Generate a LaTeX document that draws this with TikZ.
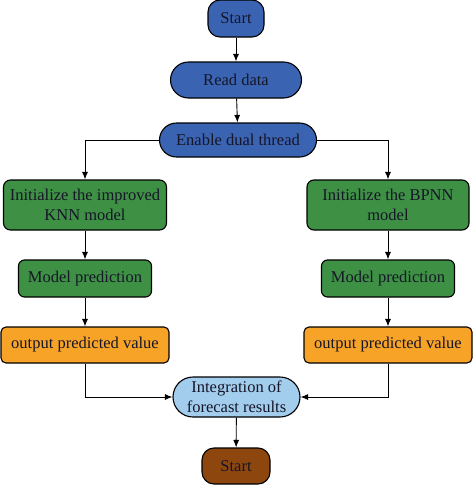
\documentclass[tikz,border=0pt]{standalone}
\usepackage{fontspec}
\setmainfont{Liberation Serif}
\usetikzlibrary{arrows.meta}
\definecolor{stepblue}{RGB}{58,99,178}
\definecolor{stepgreen}{RGB}{62,145,68}
\definecolor{steporange}{RGB}{247,163,40}
\definecolor{steplight}{RGB}{162,205,236}
\definecolor{stepbrown}{RGB}{140,70,14}
\definecolor{steptext}{RGB}{22,22,40}
\tikzset{
	box/.style={draw=black, line width=1.1pt, inner sep=0pt, align=center, text=steptext,
		font=\fontsize{16.5}{20}\selectfont},
	flow/.style={line width=0.9pt, -{Latex[length=7.5pt,width=6pt]}},
}
\begin{document}
\begin{tikzpicture}[x=1pt,y=-1pt]
	% Fix the page
	\useasboundingbox (0,0) rectangle (473,485);
	
	% Main line
	\node[box, fill=stepblue, minimum width=56pt, minimum height=37pt, rounded corners=12pt] (start) at (236,18.5) {Start};
	\node[box, fill=stepblue, minimum width=131pt, minimum height=36pt, rounded corners=18pt] (read) at (236,80) {Read data};
	\node[box, fill=stepblue, minimum width=157pt, minimum height=34pt, rounded corners=17pt] (dual) at (238,140) {Enable dual thread};
	
	% Left thread
	\node[box, fill=stepgreen, minimum width=163pt, minimum height=50pt, rounded corners=7pt] (initL) at (85,205) {Initialize the improved\\KNN model};
	\node[box, fill=stepgreen, minimum width=133pt, minimum height=37pt, rounded corners=6pt] (predL) at (85,278.5) {Model prediction};
	\node[box, fill=steporange, minimum width=168pt, minimum height=36pt, rounded corners=5pt] (outL) at (85,345) {output predicted value};
	
	% Right thread
	\node[box, fill=stepgreen, minimum width=162pt, minimum height=50pt, rounded corners=7pt] (initR) at (388,205) {Initialize the BPNN\\model};
	\node[box, fill=stepgreen, minimum width=133pt, minimum height=37pt, rounded corners=6pt] (predR) at (388,278.5) {Model prediction};
	\node[box, fill=steporange, minimum width=168pt, minimum height=36pt, rounded corners=5pt] (outR) at (388,345) {output predicted value};
	
	% Merge
	\node[box, fill=steplight, minimum width=127pt, minimum height=40pt, rounded corners=20pt] (merge) at (236.5,397) {Integration of\\forecast results};
	\node[box, fill=stepbrown, minimum width=68pt, minimum height=36pt, rounded corners=12pt] (finish) at (236,466) {Start};
	
	\draw[flow] (start) -- (read);
	\draw[flow] (read) -- (dual);
	\draw[flow] (dual.west) -| (initL.north);
	\draw[flow] (dual.east) -| (initR.north);
	\draw[flow] (initL) -- (predL);
	\draw[flow] (predL) -- (outL);
	\draw[flow] (initR) -- (predR);
	\draw[flow] (predR) -- (outR);
	\draw[flow] (outL.south) |- (merge.west);
	\draw[flow] (outR.south) |- (merge.east);
	\draw[flow] (merge) -- (finish);
	
\end{tikzpicture}
\end{document}
